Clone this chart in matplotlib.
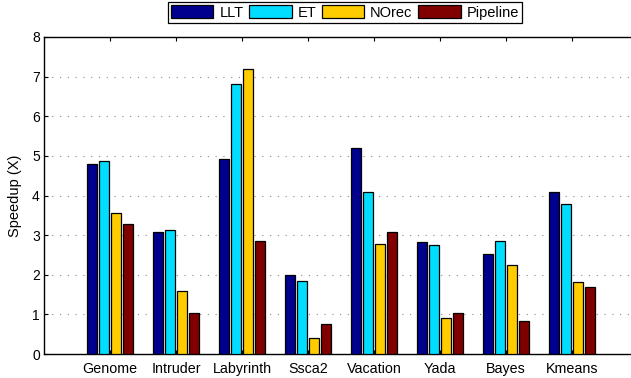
import matplotlib
matplotlib.use("Agg")
import matplotlib.pyplot as plt
import numpy as np

plt.rcParams['font.family'] = ['Liberation Sans', 'DejaVu Sans']

categories = ["Genome", "Intruder", "Labyrinth", "Ssca2", "Vacation", "Yada", "Bayes", "Kmeans"]
series_names = ["LLT", "ET", "NOrec", "Pipeline"]
llt = [4.80, 3.07, 4.91, 1.99, 5.19, 2.82, 2.52, 4.08]
et = [4.87, 3.12, 6.81, 1.85, 4.08, 2.76, 2.84, 3.78]
norec = [3.56, 1.59, 7.19, 0.41, 2.78, 0.92, 2.24, 1.81]
pipeline = [3.29, 1.04, 2.84, 0.76, 3.07, 1.04, 0.83, 1.69]
colors = ["#00008F", "#00DDFF", "#FFCC00", "#800000"]

fig = plt.figure(figsize=(6.31, 3.78), dpi=100)
ax = fig.add_axes([44/631, 1-354/378, (638-44)/631, (354-37)/378])

x = np.arange(1, len(categories) + 1)
width = 0.15
offsets = [-0.273, -0.091, 0.091, 0.273]
handles = []
for vals, off, col, name in zip([llt, et, norec, pipeline], offsets, colors, series_names):
    # soft drop shadow behind each bar
    ax.bar(x + off + 0.02, vals, width, bottom=-0.02, color="#9a9a9a", edgecolor="none",
           zorder=2, alpha=0.6)
    h = ax.bar(x + off, vals, width, color=col, edgecolor="black", linewidth=0.9,
               zorder=3, label=name)
    handles.append(h)

ax.set_xlim(0, 9)
ax.set_ylim(0, 8)
ax.set_xticks(x)
ax.set_xticklabels(categories, fontsize=10.3)
ax.set_yticks(range(0, 9))
ax.set_yticklabels([str(v) for v in range(0, 9)], fontsize=10)
ax.tick_params(direction="in", length=3, width=0.8, top=True, right=True)
ax.tick_params(axis="x", pad=6)
ax.tick_params(axis="y", pad=3)
ax.set_ylabel("Speedup (X)", fontsize=10.5, labelpad=7)

for yv in range(1, 8):
    ax.axhline(yv, color="#8a8a8a", linestyle=(0, (1, 6)), linewidth=0.8, zorder=1)

for sp in ax.spines.values():
    sp.set_linewidth(1.0)

leg = fig.legend(handles=handles, labels=series_names, loc="upper center",
                 bbox_to_anchor=(345/631, 1 - 1/378), ncol=4, fontsize=10.5,
                 handlelength=2.9, handleheight=0.95, handletextpad=0.4,
                 columnspacing=0.4, borderpad=0.2, borderaxespad=0.1,
                 fancybox=False, framealpha=1, edgecolor="black")
leg.get_frame().set_linewidth(0.9)

fig.savefig("out.png", dpi=100)
